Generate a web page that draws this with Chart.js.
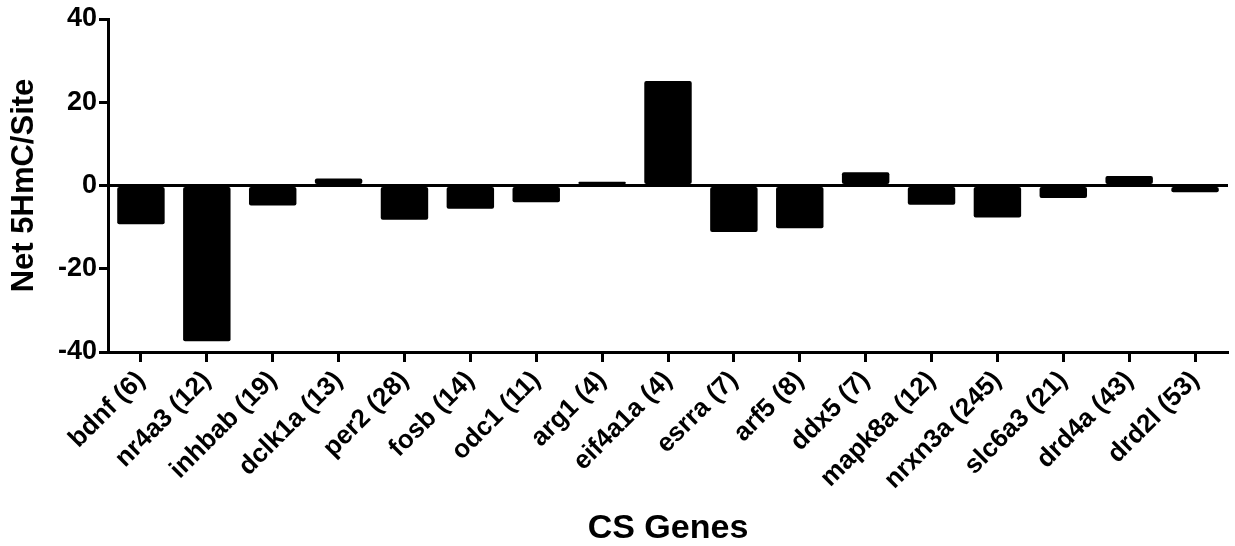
<!DOCTYPE html>
<html>
<head>
<meta charset="utf-8">
<script src="https://cdn.jsdelivr.net/npm/chart.js@4"></script>
<style>
  html, body { margin: 0; padding: 0; background: #fff; }
  #wrap { width: 1235px; height: 546px; }
</style>
</head>
<body>
<div id="wrap"><canvas id="genesChart"></canvas></div>
<script>
// data
const genes = ['bdnf (6)', 'nr4a3 (12)', 'inhbab (19)', 'dclk1a (13)', 'per2 (28)', 'fosb (14)',
  'odc1 (11)', 'arg1 (4)', 'eif4a1a (4)', 'esrra (7)', 'arf5 (8)', 'ddx5 (7)', 'mapk8a (12)',
  'nrxn3a (245)', 'slc6a3 (21)', 'drd4a (43)', 'drd2l (53)'];
const net5hmc = [-9.3, -37.4, -4.8, 1.7, -8.2, -5.6, -4.0, 0.9, 25.1, -11.2, -10.3, 3.2, -4.6,
  -7.7, -3.0, 2.3, -1.6];
const yTicks = [-40, -20, 0, 20, 40];

const fontFam = "'Liberation Sans', Arial, sans-serif";
Chart.defaults.font.family = fontFam;
Chart.defaults.color = '#000';

const chartCanvas = document.getElementById('genesChart');
let genesChart = new Chart(chartCanvas, {
  type: 'bar',
  data: {
    labels: genes,
    datasets: [{
      label: 'Net 5HmC/Site',
      data: net5hmc,
      backgroundColor: '#000',
      borderRadius: 2,
      borderSkipped: false,
      barPercentage: 0.72,
      categoryPercentage: 1
    }]
  },
  options: {
    responsive: true,
    maintainAspectRatio: false,
    animation: false,
    layout: { padding: { top: 19, right: 7, left: 0, bottom: 0 } },
    plugins: {
      legend: { display: false },
      tooltip: { enabled: false }
    },
    scales: {
      x: {
        offset: true,
        grid: {
          offset: false,
          drawOnChartArea: false,
          tickLength: 10,
          tickWidth: 3,
          tickColor: '#000'
        },
        border: { color: '#000', width: 3 },
        ticks: {
          minRotation: 45,
          maxRotation: 45,
          autoSkip: false,
          padding: 3,
          font: { size: 26, weight: 'bold' }
        },
        title: {
          display: true,
          text: 'CS Genes',
          font: { size: 34, weight: 'bold', lineHeight: 1 },
          padding: { top: 0, bottom: 0 }
        },
        afterFit: (scale) => { scale.height = 194; }
      },
      y: {
        min: -40,
        max: 40,
        afterBuildTicks: (scale) => { scale.ticks = yTicks.map(v => ({ value: v })); },
        grid: {
          color: (ctx) => (ctx.tick && ctx.tick.value === 0 ? '#000' : 'rgba(0,0,0,0)'),
          lineWidth: 3,
          tickLength: 9,
          tickWidth: 3,
          tickColor: '#000'
        },
        border: { color: '#000', width: 3 },
        ticks: {
          padding: 2,
          font: { size: 27, weight: 'bold' }
        },
        title: {
          display: true,
          text: 'Net 5HmC/Site',
          font: { size: 31, weight: 'bold' },
          padding: { top: 6, bottom: 4 }
        },
        afterFit: (scale) => { scale.width = 108; }
      }
    }
  }
});
</script>
</body>
</html>
